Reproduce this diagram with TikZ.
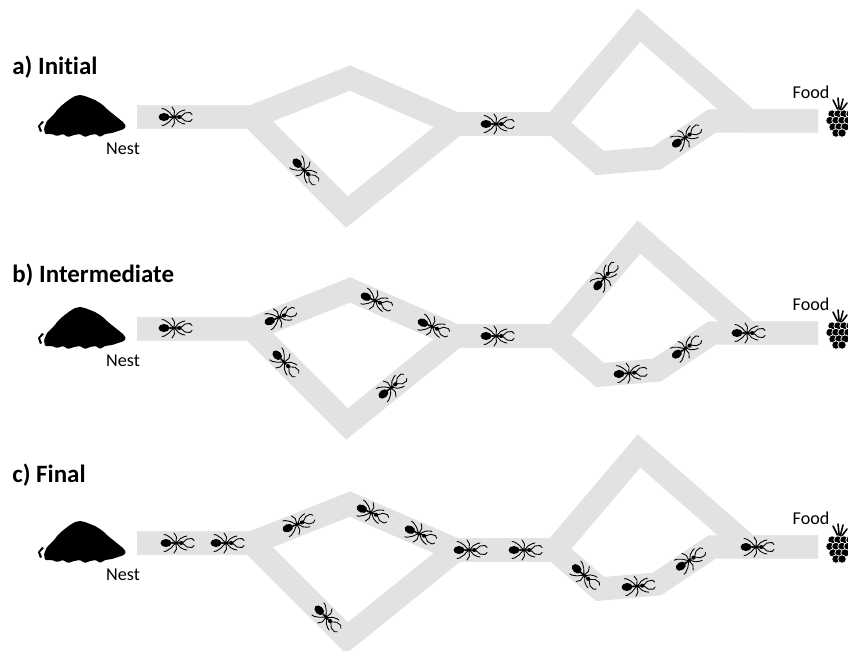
\documentclass[tikz,border=0pt]{standalone}
\usepackage{fontspec}
\setmainfont[Ligatures=NoCommon]{Carlito}
\usepackage{tikz}

\definecolor{trailgray}{RGB}{226,226,226}

\tikzset{
  trail/.style={draw=trailgray, line width=13.3pt, line join=miter},
  title/.style={anchor=base west, inner sep=0pt, font=\fontsize{14.2}{17}\selectfont\bfseries},
  tag/.style={anchor=base, inner sep=0pt, font=\fontsize{10.3}{12}\selectfont},
  antleg/.style={line width=0.5pt, line join=round, line cap=round},
  ant/.pic={
    \fill (-11,0) ellipse [x radius=5.5, y radius=4];
    \fill (-4.8,0) ellipse [x radius=1.4, y radius=1.2];
    \fill (-1,0) ellipse [x radius=3, y radius=1.6];
    \fill (4.3,0) ellipse [x radius=2.3, y radius=2];
    \foreach \s in {1,-1} {
      \draw[antleg] (0.5,{\s*1}) -- (3.5,{\s*4.5}) -- (7.5,{\s*6.5}) -- (10,{\s*7});
      \draw[antleg] (-1,{\s*1.5}) -- (-0.5,{\s*6}) -- (-3,{\s*10});
      \draw[antleg] (-2.5,{\s*1.2}) -- (-6,{\s*5}) -- (-10.5,{\s*8}) -- (-13,{\s*8.5});
      \draw[antleg] (6.3,{\s*0.8}) -- (10,{\s*4}) -- (15,{\s*4.5}) -- (17,{\s*2.5});
    }
  },
  berry/.pic={
    \foreach \u/\v in {-6/-26,-1/-28,4/-27,8/-23}
      \draw[line width=0.9pt, line cap=round] (0.5,-13) -- (\u,\v);
    \foreach \x/\y in {-7/-12,-1/-12,5/-12,11/-12,-9/-5.5,-3/-5.5,3/-5.5,9/-5.5,-6/1,0/1,6/1,-3/7,3/7}
      \filldraw[draw=white, line width=0.4pt] (\x,\y) circle [radius=4.2];
  },
}

\begin{document}
\begin{tikzpicture}[x=0.02cm, y=-0.02cm]
  \clip (0,0) rectangle (848,650);
  \fill[white] (0,0) rectangle (848,650);

  \foreach \p/\dy/\ty/\name in {a/0/74/{a) Initial}, b/212/282/{b) Intermediate}, c/426/482/{c) Final}} {
    \node[title] (\p-title) at (12,\ty) {\name};
    \begin{scope}[shift={(0,\dy)}]
      % trail network
      \coordinate (\p-t0) at (137,117);
      \coordinate (\p-j1) at (252,117);
      \coordinate (\p-up1) at (350,78);
      \coordinate (\p-dn1) at (347,212);
      \coordinate (\p-j2) at (456,124);
      \coordinate (\p-j3) at (555,124);
      \coordinate (\p-up2) at (639,25);
      \coordinate (\p-dn2) at (600,163);
      \coordinate (\p-dn3) at (657,158);
      \coordinate (\p-dn4) at (712,121);
      \coordinate (\p-j4) at (749,121);
      \coordinate (\p-t1) at (818,121);
      \draw[trail] (\p-t0) -- (\p-j1) -- (\p-up1) -- (\p-j2) -- (\p-j3) -- (\p-up2) -- (\p-j4) -- (\p-t1);
      \draw[trail] (\p-t0) -- (\p-j1) -- (\p-dn1) -- (\p-j2) -- (\p-j3) -- (\p-dn2) -- (\p-dn3) -- (\p-dn4) -- (\p-j4) -- (\p-t1);

      % nest mound
      \fill[rounded corners=0.6pt] (45,134) -- (44,128) -- (47,121) -- (52,116) -- (55,113) -- (57,110)
        -- (61,106) -- (66,102) -- (70,99) -- (75,96) -- (80,95) -- (85,96) -- (90,98) -- (95,100)
        -- (100,103) -- (104,106) -- (108,110) -- (113,114) -- (118,118) -- (123,122) -- (126,126)
        -- (124,129) -- (118,131) -- (112,133) -- (105,134) -- (100,137) -- (96,134) -- (90,135)
        -- (85,137) -- (80,134) -- (74,135) -- (68,137) -- (63,134) -- (57,136) -- (52,134) -- cycle;
      \fill (42,121) -- (38,126) -- (40,132) -- (42,131) -- (40,126) -- (44,122) -- cycle;
      \node[tag] (\p-nest) at (123,154) {Nest};

      % food
      \node[tag] (\p-food) at (811,98) {Food};
      \pic (\p-berry) at (839,126) {berry};
    \end{scope}
  }

  % ants: x / y / heading
  \foreach \x/\y/\r in {175/117/0, 305/171/-45, 497/124/0, 686/137/34,
      175/328/0, 280/317/22, 376/301/-23, 433/327/-23, 285/363/-45, 392/387/39,
      497/336/0, 605/277/50, 630/373/5, 686/348/34, 748/333/0,
      177/543/0, 227/543/0, 298/524/22, 372/513/-23, 420/534/-23, 327/618/-45,
      470/550/0, 525/550/0, 585/576/-41, 638/586/5, 690/560/34, 757/547/0}
    \pic[rotate=\r] at (\x,\y) {ant};
\end{tikzpicture}
\end{document}
